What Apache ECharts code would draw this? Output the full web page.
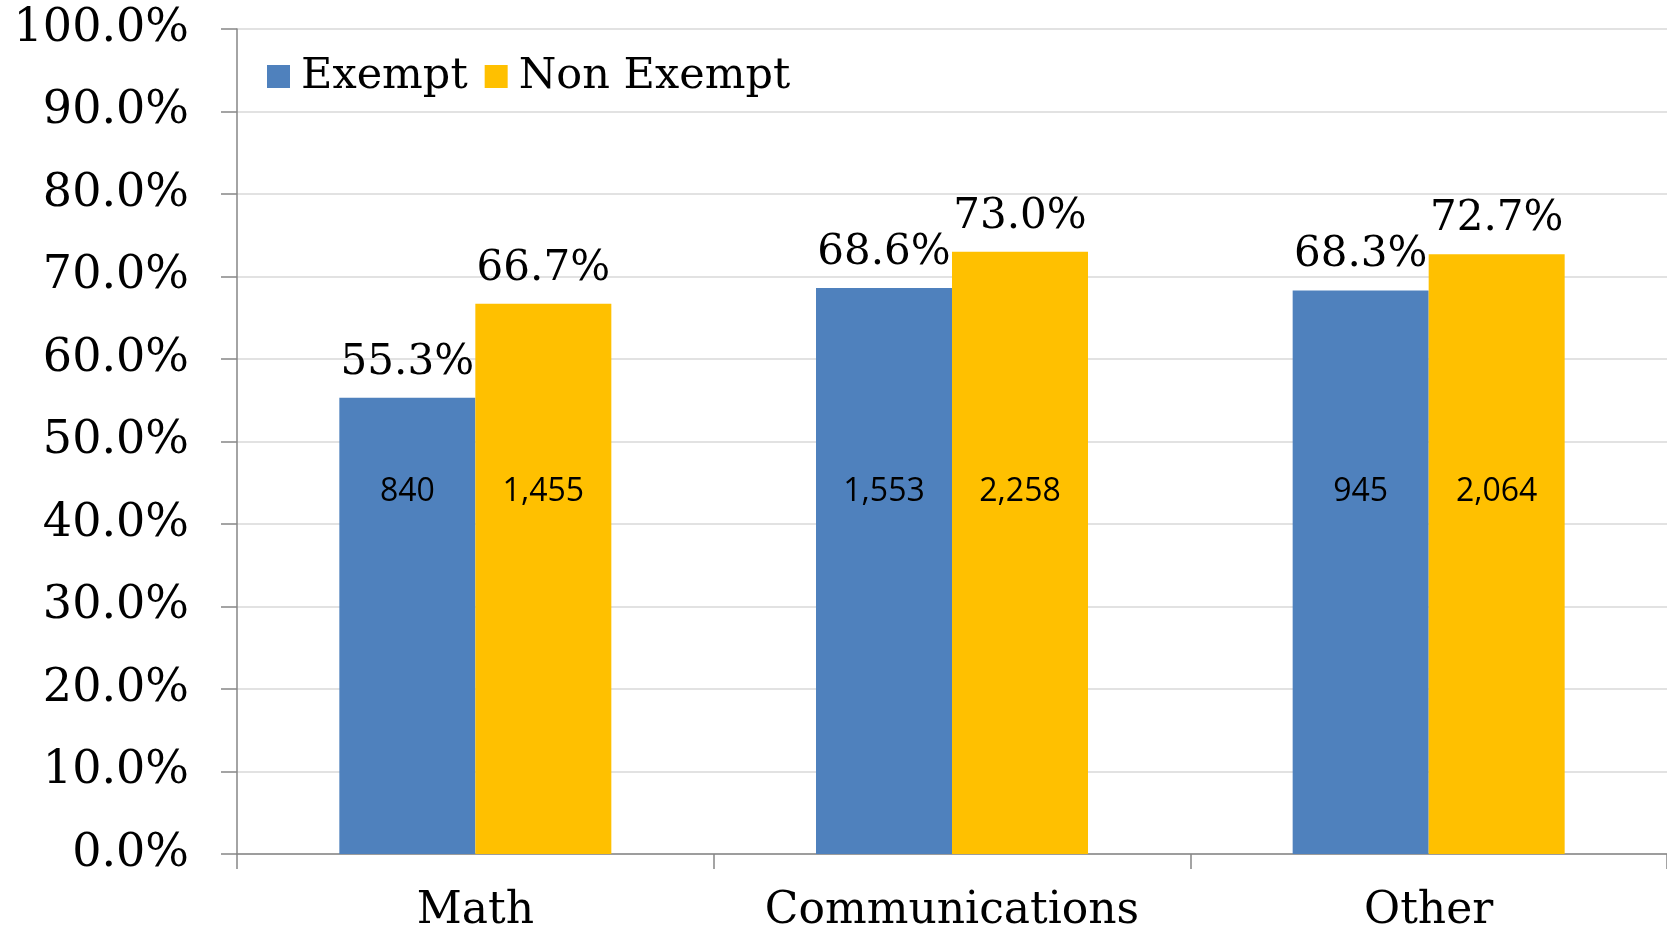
<!DOCTYPE html>
<html>
<head>
<meta charset="utf-8">
<script src="https://cdn.jsdelivr.net/npm/echarts@6/dist/echarts.min.js"></script>
<style>
html,body{margin:0;padding:0;background:#fff;}
#chart{width:1667px;height:934px;}
</style>
</head>
<body>
<div id="chart"></div>
<script>
const categories = ['Math', 'Communications', 'Other'];
const exemptPct = [55.3, 68.6, 68.3];
const nonExemptPct = [66.7, 73.0, 72.7];
const exemptCount = [840, 1553, 945];
const nonExemptCount = [1455, 2258, 2064];
const yTicks = [0, 10, 20, 30, 40, 50, 60, 70, 80, 90, 100];

const serif = 'DejaVu Serif';
const fmtCount = v => v.toLocaleString('en-US');

const chart = echarts.init(document.getElementById('chart'), null, {renderer: 'canvas'});
const barW = 136;

function pctSeries(name, data, color) {
  return {
    name: name, type: 'bar', xAxisIndex: 0, data: data,
    barWidth: barW, barGap: '0%',
    itemStyle: {color: color},
    label: {show: true, position: 'top', distance: 14,
      fontFamily: serif, fontSize: 42, color: '#000',
      formatter: p => p.value.toFixed(1) + '%'}
  };
}
function countSeries(name, data, counts) {
  return {
    name: name + ' count', type: 'bar', xAxisIndex: 1, data: data,
    barWidth: barW, barGap: '0%', silent: true,
    itemStyle: {color: 'rgba(0,0,0,0)'},
    label: {show: true, position: 'insideBottom', distance: 346,
      fontFamily: 'Open Sans', fontSize: 32, color: '#000',
      formatter: p => fmtCount(counts[p.dataIndex])}
  };
}

chart.setOption({
  animation: false,
  backgroundColor: '#fff',
  grid: {left: 237, top: 29, width: 1440, height: 829, containLabel: false},
  legend: {
    left: 262, top: 50, itemWidth: 23, itemHeight: 23, itemGap: 17,
    icon: 'rect',
    data: ['Exempt', 'Non Exempt'],
    textStyle: {fontFamily: serif, fontSize: 43, color: '#000', padding: [0, 0, 0, 6]}
  },
  xAxis: [{
    type: 'category', data: categories,
    axisLine: {show: true, lineStyle: {color: '#868686', width: 1.5}},
    axisTick: {show: true, interval: 0, length: 15, lineStyle: {color: '#868686', width: 1.5}},
    axisLabel: {interval: 0, fontFamily: serif, fontSize: 44, color: '#000', margin: 36}
  }, {
    type: 'category', data: categories, show: false
  }],
  yAxis: {
    type: 'value', min: yTicks[0], max: yTicks[yTicks.length - 1], interval: 10,
    axisLine: {show: true, lineStyle: {color: '#868686', width: 1.5}},
    axisTick: {show: true, length: 16, lineStyle: {color: '#868686', width: 1.5}},
    splitLine: {show: true, lineStyle: {color: '#D9D9D9', width: 1.5}},
    axisLabel: {fontFamily: serif, fontSize: 46, color: '#000', margin: 48,
      formatter: v => v.toFixed(1) + '%'}
  },
  series: [
    pctSeries('Exempt', exemptPct, '#4F81BD'),
    pctSeries('Non Exempt', nonExemptPct, '#FFC000'),
    countSeries('Exempt', exemptPct, exemptCount),
    countSeries('Non Exempt', nonExemptPct, nonExemptCount)
  ]
});
</script>
</body>
</html>
